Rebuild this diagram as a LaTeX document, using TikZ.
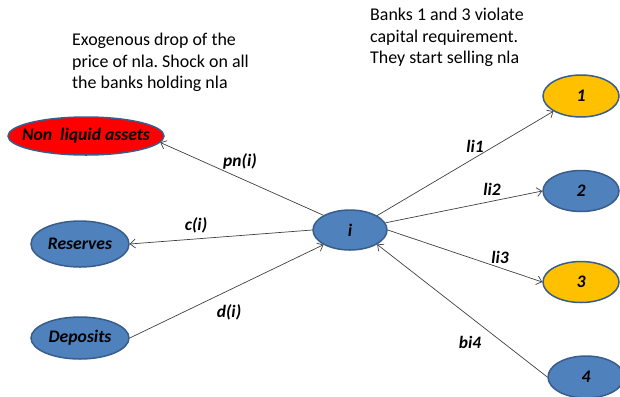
\documentclass[tikz,border=0pt]{standalone}
\usepackage{fontspec}
\setmainfont{Carlito}
\usetikzlibrary{shapes.geometric,arrows.meta}
\frenchspacing
\definecolor{bankblue}{HTML}{4F81BD}
\definecolor{bankedge}{HTML}{385D8A}
\definecolor{bankgold}{HTML}{FFC000}
\definecolor{linkgray}{HTML}{404040}
\newcommand{\fixw}[1]{\makebox[0pt]{#1}}
\tikzset{
  bank/.style={ellipse, draw=bankedge, line width=1.5pt, fill=bankblue, inner sep=0pt,
    font=\fontsize{17.7}{20}\selectfont\bfseries\itshape, text=black},
  stressed/.style={bank, fill=bankgold},
  link/.style={draw=linkgray, line width=0.7pt, -{Straight Barb[length=5pt,width=9pt,line width=0.7pt]}},
  flowlabel/.style={font=\fontsize{17.5}{20}\selectfont\bfseries\itshape},
  note/.style={anchor=base west, inner sep=0pt,
    font=\fontsize{18}{21.7}\selectfont}
}
\begin{document}
\begin{tikzpicture}[x=1bp,y=-1bp]
\useasboundingbox (0,0) rectangle (620,396);
\clip (0,0) rectangle (620,396);

% captions
\node[note] (shock) at (72,45.7) {\begin{tabular}[t]{@{}l@{}}Exogenous drop of the\\price of nla. Shock on all\\the banks holding nla\end{tabular}};
\node[note] (viol) at (370,20.7) {\begin{tabular}[t]{@{}l@{}}Banks 1 and 3 violate\\capital requirement.\\They start selling nla\end{tabular}};

% balance-sheet items
\node[bank, fill=red, minimum width=156bp, minimum height=38bp] (nla) at (86,136) {\fixw{Non~ liquid assets}};
\node[bank, minimum width=98bp, minimum height=46bp] (res) at (80,244) {\fixw{Reserves}};
\node[bank, minimum width=98bp, minimum height=42bp] (dep) at (80,338) {\fixw{Deposits}};

% central bank i
\node[bank, minimum width=74bp, minimum height=40bp] (i) at (350,230) {\fixw{i}};

% counterparties
\node[stressed, minimum width=76bp, minimum height=42bp] (b1) at (581,96) {\fixw{1}};
\node[bank, minimum width=76bp, minimum height=41bp] (b2) at (581,191) {\fixw{2}};
\node[stressed, minimum width=76bp, minimum height=41bp] (b3) at (581,282) {\fixw{3}};
\node[bank, minimum width=76bp, minimum height=42bp] (b4) at (586,377) {\fixw{4}};

% exposures, attached at the ellipses' connection points
\draw[link] (i.151.7) -- (nla.-5);
\draw[link] (i.west) -- (res.east);
\draw[link] (dep.east) -- (i.-151.7);
\draw[link] (i.28.3) -- (b1.-151.2);
\draw[link] (i) -- (b2.west);
\draw[link] (i.east) -- (b3.west);
\draw[link] (b4.west) -- (i.-28.3);

% flow labels
\node[flowlabel] (lpn) at (240,161) {pn(i)};
\node[flowlabel] (lc) at (196,225) {c(i)};
\node[flowlabel] (ld) at (229,312) {d(i)};
\node[flowlabel] (l1) at (475,146) {li1};
\node[flowlabel] (l2) at (492,189) {li2};
\node[flowlabel] (l3) at (500,257) {li3};
\node[flowlabel] (l4) at (470,342) {bi4};
\end{tikzpicture}
\end{document}
